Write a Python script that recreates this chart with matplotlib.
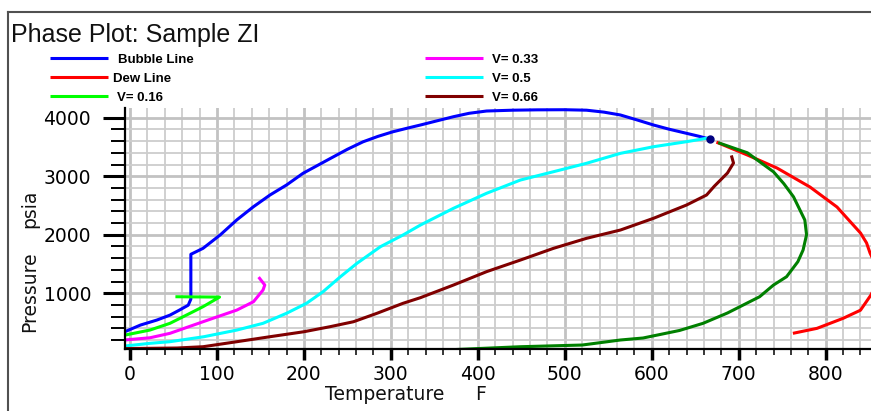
import matplotlib
matplotlib.use("Agg")
import matplotlib.pyplot as plt
from matplotlib.ticker import MultipleLocator, FixedLocator
from matplotlib.lines import Line2D
from matplotlib.transforms import Bbox

# ---- phase envelope data (Temperature F, Pressure psia) ----
bubble_T = [-6, 12, 31, 46, 57, 67, 70, 70, 70, 84, 104, 123, 142, 161, 180, 199,
            230, 250, 268, 285, 302, 320, 334, 350, 372, 390, 410, 440, 468, 500,
            525, 545, 564, 583, 602, 620, 640, 655, 663, 667]
bubble_P = [343, 457, 543, 627, 714, 797, 900, 1300, 1666, 1768, 2000, 2256, 2479,
            2679, 2850, 3050, 3300, 3460, 3588, 3680, 3758, 3825, 3875, 3935, 4017,
            4075, 4114, 4128, 4134, 4136, 4128, 4095, 4046, 3962, 3875, 3803, 3733,
            3680, 3648, 3630]

dew_T = [676, 710, 744, 782, 813, 826, 840, 847, 851, 857, 860, 858, 852, 840, 820,
         790, 764]
dew_P = [3572, 3362, 3140, 2815, 2474, 2260, 2030, 1860, 1688, 1500, 1330, 1150, 970,
         711, 572, 401, 321]

v016_T = [-6, 23, 46, 69, 84, 103, 54]
v016_P = [285, 372, 487, 658, 771, 935, 941]

v033_T = [-6, 23, 46, 84, 123, 142, 153, 155, 149]
v033_P = [202, 240, 316, 514, 714, 856, 1056, 1141, 1256]

v050_T = [-6, 23, 46, 85, 123, 153, 180, 203, 222, 242, 261, 288, 314, 334, 372,
          410, 449, 487, 525, 564, 602, 640, 663]
v050_P = [99, 145, 173, 258, 372, 487, 658, 829, 1027, 1283, 1512, 1796, 1996, 2166,
          2452, 2708, 2935, 3077, 3221, 3391, 3504, 3590, 3648]

v066_T = [-6, 54, 84, 123, 161, 200, 230, 257, 284, 314, 334, 372, 410, 449, 487,
          525, 564, 602, 640, 663, 672, 687, 694, 692]
v066_P = [55, 65, 87, 173, 258, 343, 429, 514, 658, 829, 925, 1141, 1369, 1568, 1768,
          1939, 2081, 2281, 2508, 2679, 2830, 3054, 3225, 3330]

v083_T = [678, 710, 740, 752, 763, 776, 778, 774, 768, 755, 740, 724, 687, 659, 632,
          590, 564, 520, 449, 376]
v083_P = [3565, 3400, 3075, 2870, 2648, 2252, 2000, 1739, 1540, 1283, 1141, 941, 663,
          487, 365, 236, 202, 116, 87, 40]

crit_T = [667]
crit_P = [3630]

x_ticks = [0, 100, 200, 300, 400, 500, 600, 700, 800]
y_ticks = [1000, 2000, 3000, 4000]

W, H = 871, 411
fig = plt.figure(figsize=(W / 100, H / 100), dpi=100)
fig.patch.set_facecolor("white")

def fx(px):
    return px / W

def fy(py):
    return (H - py) / H

# outer frame (left and top edges)
fig.add_artist(Line2D([fx(8), fx(8)], [fy(12), fy(H + 5)], transform=fig.transFigure,
                      color="#505050", lw=1.5))
fig.add_artist(Line2D([fx(8), fx(W + 5)], [fy(12), fy(12)], transform=fig.transFigure,
                      color="#505050", lw=1.5))

fig.text(fx(11), fy(42), "Phase Plot: Sample ZI", family="Liberation Sans",
         fontsize=18, ha="left", va="baseline", color="#111111")

# legend block
leg_font = dict(family="Liberation Sans", fontsize=9.5, weight="bold", color="black")
col1 = [("Bubble Line", "#0000ff", 118), ("Dew Line", "#ff0000", 113),
        ("V= 0.16", "#00ff00", 117)]
col2 = [("V= 0.33", "#ff00ff"), ("V= 0.5", "#00ffff"), ("V= 0.66", "#800000")]
rows = [58.3, 77.3, 96.3]
for (lab, c, tx), ry in zip(col1, rows):
    fig.add_artist(Line2D([fx(50), fx(108)], [fy(ry), fy(ry)], transform=fig.transFigure,
                          color=c, lw=2.2, solid_capstyle="butt"))
    fig.text(fx(tx), fy(ry + 4.6), lab, ha="left", va="baseline", **leg_font)
for (lab, c), ry in zip(col2, rows):
    fig.add_artist(Line2D([fx(425), fx(483)], [fy(ry), fy(ry)], transform=fig.transFigure,
                          color=c, lw=2.2, solid_capstyle="butt"))
    fig.text(fx(492), fy(ry + 4.6), lab, ha="left", va="baseline", **leg_font)
# fourth entry of the first column sits under the plot area
t4 = fig.text(fx(117), fy(115.3 + 4.6), "V= 0.83", ha="left", va="baseline", **leg_font)
t4.set_clip_box(Bbox.from_extents(0, H - 110.8, W, H))
t4.set_clip_on(True)

# plot area
ax = fig.add_axes([fx(124.5), fy(349.3), fx(W) - fx(124.5), fy(108.5) - fy(349.3)])
ax.set_xlim(-6.3, 852.1)
ax.set_ylim(43, 4157)

ax.xaxis.set_major_locator(FixedLocator(x_ticks))
ax.xaxis.set_minor_locator(MultipleLocator(20))
ax.yaxis.set_major_locator(FixedLocator(y_ticks))
ax.yaxis.set_minor_locator(MultipleLocator(200))

ax.grid(which="minor", color="#cdcdcd", lw=1.3)
ax.grid(which="major", color="#c2c2c2", lw=2.0)
ax.set_axisbelow(True)

for s in ("top", "right"):
    ax.spines[s].set_visible(False)
for s in ("left", "bottom"):
    ax.spines[s].set_color("black")
    ax.spines[s].set_linewidth(1.6)
    ax.spines[s].set_zorder(5)

ax.tick_params(axis="y", which="major", length=16, width=2.2, pad=8, labelsize=13.5)
ax.tick_params(axis="y", which="minor", length=10, width=1.4)
ax.tick_params(axis="x", which="major", length=8, width=2.5, pad=3, labelsize=13.5)
ax.tick_params(axis="x", which="minor", length=4.3, width=1.1)
ax.set_xticklabels([str(v) for v in x_ticks])
ax.set_yticklabels([str(v) for v in y_ticks])

lw = 2.2
style = dict(lw=lw, zorder=3, solid_joinstyle="round")
ax.plot(bubble_T, bubble_P, color="#0000ff", **style)
ax.plot(dew_T, dew_P, color="#ff0000", **style)
ax.plot(v016_T, v016_P, color="#00ff00", **style)
ax.plot(v033_T, v033_P, color="#ff00ff", **style)
ax.plot(v050_T, v050_P, color="#00ffff", **style)
ax.plot(v066_T, v066_P, color="#800000", **style)
ax.plot(v083_T, v083_P, color="#008000", **style)
ax.plot(crit_T, crit_P, "o", color="#000080", ms=5, zorder=4)

# axis titles
lab_font = dict(family="DejaVu Sans", fontsize=13.5, color="#111111")
fig.text(fx(325), fy(399.5), "Temperature", ha="left", va="baseline", **lab_font)
fig.text(fx(475), fy(399.5), "F", ha="left", va="baseline", **lab_font)
fig.text(fx(30), fy(332), "Pressure", rotation=90, ha="center", va="bottom", **lab_font)
fig.text(fx(30), fy(228), "psia", rotation=90, ha="center", va="bottom", **lab_font)

fig.savefig("out.png", dpi=100, facecolor="white")
